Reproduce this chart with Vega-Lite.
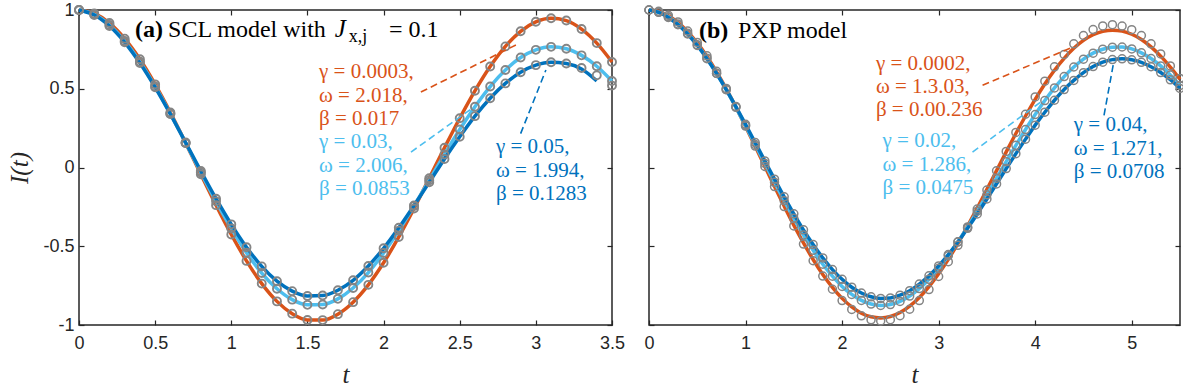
{
  "$schema": "https://vega.github.io/schema/vega-lite/v6.json",
  "background": "white",
  "padding": {"left": 6, "top": 0, "right": 4, "bottom": 0},
  "spacing": 37,
  "bounds": "flush",
  "config": {
    "view": {"stroke": "#262626", "strokeWidth": 1.5},
    "axis": {"domain": false, "grid": false, "tickSize": -5, "tickColor": "#262626", "tickWidth": 1.2, "labelFont": "Liberation Sans", "labelFontSize": 18, "labelColor": "#262626", "labelFlush": false, "labelOverlap": false, "labelBound": false, "titleFont": "Liberation Serif", "titleFontSize": 25, "titleFontStyle": "italic", "titleFontWeight": "normal", "titleColor": "#262626", "labelPadding": 10},
    "axisX": {"labelPadding": 14, "titleBaseline": "alphabetic", "titleY": 57},
    "axisY": {"titleX": -60, "titleY": 157.5, "titleBaseline": "middle"}
  },
  "datasets": {
    "curves": [
      {"p":"a","s":"s1","t":0,"fit":1,"num":1},{"p":"a","s":"s1","t":0.1,"fit":0.978,"num":0.978},{"p":"a","s":"s1","t":0.2,"fit":0.917,"num":0.917},{"p":"a","s":"s1","t":0.3,"fit":0.818,"num":0.818},{"p":"a","s":"s1","t":0.4,"fit":0.687,"num":0.687},{"p":"a","s":"s1","t":0.5,"fit":0.528,"num":0.528},{"p":"a","s":"s1","t":0.6,"fit":0.349,"num":0.349},{"p":"a","s":"s1","t":0.7,"fit":0.156,"num":0.156},{"p":"a","s":"s1","t":0.8,"fit":-0.043,"num":-0.043},{"p":"a","s":"s1","t":0.9,"fit":-0.239,"num":-0.239},{"p":"a","s":"s1","t":1.0,"fit":-0.425,"num":-0.425},{"p":"a","s":"s1","t":1.1,"fit":-0.593,"num":-0.593},{"p":"a","s":"s1","t":1.2,"fit":-0.737,"num":-0.737},{"p":"a","s":"s1","t":1.3,"fit":-0.850,"num":-0.850},{"p":"a","s":"s1","t":1.4,"fit":-0.928,"num":-0.928},{"p":"a","s":"s1","t":1.5,"fit":-0.968,"num":-0.968},{"p":"a","s":"s1","t":1.6,"fit":-0.969,"num":-0.969},{"p":"a","s":"s1","t":1.7,"fit":-0.931,"num":-0.931},{"p":"a","s":"s1","t":1.8,"fit":-0.855,"num":-0.855},{"p":"a","s":"s1","t":1.9,"fit":-0.745,"num":-0.745},{"p":"a","s":"s1","t":2.0,"fit":-0.605,"num":-0.605},{"p":"a","s":"s1","t":2.1,"fit":-0.441,"num":-0.441},{"p":"a","s":"s1","t":2.2,"fit":-0.260,"num":-0.260},{"p":"a","s":"s1","t":2.3,"fit":-0.068,"num":-0.068},{"p":"a","s":"s1","t":2.4,"fit":0.125,"num":0.125},{"p":"a","s":"s1","t":2.5,"fit":0.313,"num":0.313},{"p":"a","s":"s1","t":2.6,"fit":0.487,"num":0.487},{"p":"a","s":"s1","t":2.7,"fit":0.641,"num":0.641},{"p":"a","s":"s1","t":2.8,"fit":0.769,"num":0.769},{"p":"a","s":"s1","t":2.9,"fit":0.865,"num":0.865},{"p":"a","s":"s1","t":3.0,"fit":0.925,"num":0.925},{"p":"a","s":"s1","t":3.1,"fit":0.948,"num":0.948},{"p":"a","s":"s1","t":3.2,"fit":0.933,"num":0.933},{"p":"a","s":"s1","t":3.3,"fit":0.879,"num":0.879},{"p":"a","s":"s1","t":3.4,"fit":0.790,"num":0.790},{"p":"a","s":"s1","t":3.5,"fit":0.670,"num":0.670},
      {"p":"a","s":"s2","t":0,"fit":1,"num":1},{"p":"a","s":"s2","t":0.1,"fit":0.972,"num":0.972},{"p":"a","s":"s2","t":0.2,"fit":0.905,"num":0.905},{"p":"a","s":"s2","t":0.3,"fit":0.803,"num":0.803},{"p":"a","s":"s2","t":0.4,"fit":0.672,"num":0.672},{"p":"a","s":"s2","t":0.5,"fit":0.515,"num":0.515},{"p":"a","s":"s2","t":0.6,"fit":0.341,"num":0.341},{"p":"a","s":"s2","t":0.7,"fit":0.156,"num":0.156},{"p":"a","s":"s2","t":0.8,"fit":-0.032,"num":-0.032},{"p":"a","s":"s2","t":0.9,"fit":-0.215,"num":-0.215},{"p":"a","s":"s2","t":1.0,"fit":-0.387,"num":-0.387},{"p":"a","s":"s2","t":1.1,"fit":-0.541,"num":-0.541},{"p":"a","s":"s2","t":1.2,"fit":-0.670,"num":-0.670},{"p":"a","s":"s2","t":1.3,"fit":-0.770,"num":-0.770},{"p":"a","s":"s2","t":1.4,"fit":-0.839,"num":-0.839},{"p":"a","s":"s2","t":1.5,"fit":-0.872,"num":-0.872},{"p":"a","s":"s2","t":1.6,"fit":-0.870,"num":-0.870},{"p":"a","s":"s2","t":1.7,"fit":-0.834,"num":-0.834},{"p":"a","s":"s2","t":1.8,"fit":-0.765,"num":-0.765},{"p":"a","s":"s2","t":1.9,"fit":-0.667,"num":-0.667},{"p":"a","s":"s2","t":2.0,"fit":-0.543,"num":-0.543},{"p":"a","s":"s2","t":2.1,"fit":-0.401,"num":-0.401},{"p":"a","s":"s2","t":2.2,"fit":-0.244,"num":-0.244},{"p":"a","s":"s2","t":2.3,"fit":-0.081,"num":-0.081},{"p":"a","s":"s2","t":2.4,"fit":0.083,"num":0.083},{"p":"a","s":"s2","t":2.5,"fit":0.241,"num":0.241},{"p":"a","s":"s2","t":2.6,"fit":0.386,"num":0.386},{"p":"a","s":"s2","t":2.7,"fit":0.514,"num":0.514},{"p":"a","s":"s2","t":2.8,"fit":0.619,"num":0.619},{"p":"a","s":"s2","t":2.9,"fit":0.698,"num":0.698},{"p":"a","s":"s2","t":3.0,"fit":0.747,"num":0.747},{"p":"a","s":"s2","t":3.1,"fit":0.766,"num":0.766},{"p":"a","s":"s2","t":3.2,"fit":0.754,"num":0.754},{"p":"a","s":"s2","t":3.3,"fit":0.712,"num":0.712},{"p":"a","s":"s2","t":3.4,"fit":0.643,"num":0.643},{"p":"a","s":"s2","t":3.5,"fit":0.549,"num":0.549},
      {"p":"a","s":"s3","t":0,"fit":1,"num":1},{"p":"a","s":"s3","t":0.1,"fit":0.968,"num":0.968},{"p":"a","s":"s3","t":0.2,"fit":0.898,"num":0.898},{"p":"a","s":"s3","t":0.3,"fit":0.795,"num":0.795},{"p":"a","s":"s3","t":0.4,"fit":0.663,"num":0.663},{"p":"a","s":"s3","t":0.5,"fit":0.509,"num":0.509},{"p":"a","s":"s3","t":0.6,"fit":0.339,"num":0.339},{"p":"a","s":"s3","t":0.7,"fit":0.159,"num":0.159},{"p":"a","s":"s3","t":0.8,"fit":-0.022,"num":-0.022},{"p":"a","s":"s3","t":0.9,"fit":-0.198,"num":-0.198},{"p":"a","s":"s3","t":1.0,"fit":-0.361,"num":-0.361},{"p":"a","s":"s3","t":1.1,"fit":-0.506,"num":-0.506},{"p":"a","s":"s3","t":1.2,"fit":-0.628,"num":-0.628},{"p":"a","s":"s3","t":1.3,"fit":-0.722,"num":-0.722},{"p":"a","s":"s3","t":1.4,"fit":-0.785,"num":-0.785},{"p":"a","s":"s3","t":1.5,"fit":-0.816,"num":-0.816},{"p":"a","s":"s3","t":1.6,"fit":-0.813,"num":-0.813},{"p":"a","s":"s3","t":1.7,"fit":-0.779,"num":-0.779},{"p":"a","s":"s3","t":1.8,"fit":-0.716,"num":-0.716},{"p":"a","s":"s3","t":1.9,"fit":-0.625,"num":-0.625},{"p":"a","s":"s3","t":2.0,"fit":-0.513,"num":-0.513},{"p":"a","s":"s3","t":2.1,"fit":-0.383,"num":-0.383},{"p":"a","s":"s3","t":2.2,"fit":-0.241,"num":-0.241},{"p":"a","s":"s3","t":2.3,"fit":-0.094,"num":-0.094},{"p":"a","s":"s3","t":2.4,"fit":0.054,"num":0.054},{"p":"a","s":"s3","t":2.5,"fit":0.195,"num":0.195},{"p":"a","s":"s3","t":2.6,"fit":0.326,"num":0.326},{"p":"a","s":"s3","t":2.7,"fit":0.440,"num":0.440},{"p":"a","s":"s3","t":2.8,"fit":0.534,"num":0.534},{"p":"a","s":"s3","t":2.9,"fit":0.605,"num":0.605},{"p":"a","s":"s3","t":3.0,"fit":0.650,"num":0.650},{"p":"a","s":"s3","t":3.1,"fit":0.668,"num":0.668},{"p":"a","s":"s3","t":3.2,"fit":0.660,"num":0.660},{"p":"a","s":"s3","t":3.3,"fit":0.626,"num":0.632},{"p":"a","s":"s3","t":3.4,"fit":0.550,"num":0.585},{"p":"a","s":"s3","t":3.5,"fit":null,"num":0.520},
      {"p":"b","s":"s1","t":0,"fit":1,"num":1},{"p":"b","s":"s1","t":0.1,"fit":0.991,"num":0.992},{"p":"b","s":"s1","t":0.2,"fit":0.964,"num":0.966},{"p":"b","s":"s1","t":0.3,"fit":0.922,"num":0.924},{"p":"b","s":"s1","t":0.4,"fit":0.863,"num":0.866},{"p":"b","s":"s1","t":0.5,"fit":0.791,"num":0.794},{"p":"b","s":"s1","t":0.6,"fit":0.705,"num":0.709},{"p":"b","s":"s1","t":0.7,"fit":0.607,"num":0.611},{"p":"b","s":"s1","t":0.8,"fit":0.499,"num":0.502},{"p":"b","s":"s1","t":0.9,"fit":0.383,"num":0.386},{"p":"b","s":"s1","t":1.0,"fit":0.261,"num":0.263},{"p":"b","s":"s1","t":1.1,"fit":0.135,"num":0.136},{"p":"b","s":"s1","t":1.2,"fit":0.007,"num":0.007},{"p":"b","s":"s1","t":1.3,"fit":-0.120,"num":-0.121},{"p":"b","s":"s1","t":1.4,"fit":-0.245,"num":-0.248},{"p":"b","s":"s1","t":1.5,"fit":-0.366,"num":-0.371},{"p":"b","s":"s1","t":1.6,"fit":-0.479,"num":-0.486},{"p":"b","s":"s1","t":1.7,"fit":-0.584,"num":-0.592},{"p":"b","s":"s1","t":1.8,"fit":-0.679,"num":-0.689},{"p":"b","s":"s1","t":1.9,"fit":-0.761,"num":-0.773},{"p":"b","s":"s1","t":2.0,"fit":-0.831,"num":-0.845},{"p":"b","s":"s1","t":2.1,"fit":-0.885,"num":-0.901},{"p":"b","s":"s1","t":2.2,"fit":-0.925,"num":-0.942},{"p":"b","s":"s1","t":2.3,"fit":-0.948,"num":-0.967},{"p":"b","s":"s1","t":2.4,"fit":-0.955,"num":-0.974},{"p":"b","s":"s1","t":2.5,"fit":-0.946,"num":-0.966},{"p":"b","s":"s1","t":2.6,"fit":-0.921,"num":-0.941},{"p":"b","s":"s1","t":2.7,"fit":-0.880,"num":-0.900},{"p":"b","s":"s1","t":2.8,"fit":-0.825,"num":-0.845},{"p":"b","s":"s1","t":2.9,"fit":-0.756,"num":-0.775},{"p":"b","s":"s1","t":3.0,"fit":-0.675,"num":-0.692},{"p":"b","s":"s1","t":3.1,"fit":-0.583,"num":-0.598},{"p":"b","s":"s1","t":3.2,"fit":-0.481,"num":-0.494},{"p":"b","s":"s1","t":3.3,"fit":-0.372,"num":-0.382},{"p":"b","s":"s1","t":3.4,"fit":-0.257,"num":-0.264},{"p":"b","s":"s1","t":3.5,"fit":-0.139,"num":-0.143},{"p":"b","s":"s1","t":3.6,"fit":-0.020,"num":-0.021},{"p":"b","s":"s1","t":3.7,"fit":0.099,"num":0.102},{"p":"b","s":"s1","t":3.8,"fit":0.216,"num":0.223},{"p":"b","s":"s1","t":3.9,"fit":0.327,"num":0.338},{"p":"b","s":"s1","t":4.0,"fit":0.433,"num":0.448},{"p":"b","s":"s1","t":4.1,"fit":0.530,"num":0.548},{"p":"b","s":"s1","t":4.2,"fit":0.617,"num":0.639},{"p":"b","s":"s1","t":4.3,"fit":0.693,"num":0.718},{"p":"b","s":"s1","t":4.4,"fit":0.757,"num":0.785},{"p":"b","s":"s1","t":4.5,"fit":0.807,"num":0.838},{"p":"b","s":"s1","t":4.6,"fit":0.843,"num":0.876},{"p":"b","s":"s1","t":4.7,"fit":0.864,"num":0.899},{"p":"b","s":"s1","t":4.8,"fit":0.872,"num":0.907},{"p":"b","s":"s1","t":4.9,"fit":0.866,"num":0.898},{"p":"b","s":"s1","t":5.0,"fit":0.846,"num":0.875},{"p":"b","s":"s1","t":5.1,"fit":0.813,"num":0.838},{"p":"b","s":"s1","t":5.2,"fit":0.766,"num":0.785},{"p":"b","s":"s1","t":5.3,"fit":0.707,"num":0.721},{"p":"b","s":"s1","t":5.4,"fit":0.638,"num":0.645},{"p":"b","s":"s1","t":5.5,"fit":0.560,"num":0.565},
      {"p":"b","s":"s2","t":0,"fit":1,"num":1},{"p":"b","s":"s2","t":0.1,"fit":0.986,"num":0.986},{"p":"b","s":"s2","t":0.2,"fit":0.957,"num":0.957},{"p":"b","s":"s2","t":0.3,"fit":0.911,"num":0.911},{"p":"b","s":"s2","t":0.4,"fit":0.852,"num":0.852},{"p":"b","s":"s2","t":0.5,"fit":0.779,"num":0.779},{"p":"b","s":"s2","t":0.6,"fit":0.694,"num":0.694},{"p":"b","s":"s2","t":0.7,"fit":0.598,"num":0.598},{"p":"b","s":"s2","t":0.8,"fit":0.494,"num":0.494},{"p":"b","s":"s2","t":0.9,"fit":0.382,"num":0.382},{"p":"b","s":"s2","t":1.0,"fit":0.266,"num":0.266},{"p":"b","s":"s2","t":1.1,"fit":0.146,"num":0.146},{"p":"b","s":"s2","t":1.2,"fit":0.026,"num":0.026},{"p":"b","s":"s2","t":1.3,"fit":-0.094,"num":-0.094},{"p":"b","s":"s2","t":1.4,"fit":-0.211,"num":-0.211},{"p":"b","s":"s2","t":1.5,"fit":-0.323,"num":-0.323},{"p":"b","s":"s2","t":1.6,"fit":-0.429,"num":-0.429},{"p":"b","s":"s2","t":1.7,"fit":-0.526,"num":-0.526},{"p":"b","s":"s2","t":1.8,"fit":-0.614,"num":-0.614},{"p":"b","s":"s2","t":1.9,"fit":-0.690,"num":-0.690},{"p":"b","s":"s2","t":2.0,"fit":-0.755,"num":-0.755},{"p":"b","s":"s2","t":2.1,"fit":-0.806,"num":-0.806},{"p":"b","s":"s2","t":2.2,"fit":-0.844,"num":-0.844},{"p":"b","s":"s2","t":2.3,"fit":-0.867,"num":-0.867},{"p":"b","s":"s2","t":2.4,"fit":-0.876,"num":-0.876},{"p":"b","s":"s2","t":2.5,"fit":-0.870,"num":-0.870},{"p":"b","s":"s2","t":2.6,"fit":-0.850,"num":-0.850},{"p":"b","s":"s2","t":2.7,"fit":-0.816,"num":-0.816},{"p":"b","s":"s2","t":2.8,"fit":-0.769,"num":-0.769},{"p":"b","s":"s2","t":2.9,"fit":-0.710,"num":-0.710},{"p":"b","s":"s2","t":3.0,"fit":-0.640,"num":-0.640},{"p":"b","s":"s2","t":3.1,"fit":-0.560,"num":-0.560},{"p":"b","s":"s2","t":3.2,"fit":-0.472,"num":-0.472},{"p":"b","s":"s2","t":3.3,"fit":-0.377,"num":-0.377},{"p":"b","s":"s2","t":3.4,"fit":-0.277,"num":-0.277},{"p":"b","s":"s2","t":3.5,"fit":-0.173,"num":-0.173},{"p":"b","s":"s2","t":3.6,"fit":-0.068,"num":-0.068},{"p":"b","s":"s2","t":3.7,"fit":0.037,"num":0.037},{"p":"b","s":"s2","t":3.8,"fit":0.141,"num":0.141},{"p":"b","s":"s2","t":3.9,"fit":0.241,"num":0.241},{"p":"b","s":"s2","t":4.0,"fit":0.336,"num":0.336},{"p":"b","s":"s2","t":4.1,"fit":0.425,"num":0.425},{"p":"b","s":"s2","t":4.2,"fit":0.505,"num":0.505},{"p":"b","s":"s2","t":4.3,"fit":0.577,"num":0.577},{"p":"b","s":"s2","t":4.4,"fit":0.638,"num":0.638},{"p":"b","s":"s2","t":4.5,"fit":0.688,"num":0.688},{"p":"b","s":"s2","t":4.6,"fit":0.726,"num":0.726},{"p":"b","s":"s2","t":4.7,"fit":0.751,"num":0.751},{"p":"b","s":"s2","t":4.8,"fit":0.764,"num":0.764},{"p":"b","s":"s2","t":4.9,"fit":0.765,"num":0.765},{"p":"b","s":"s2","t":5.0,"fit":0.753,"num":0.753},{"p":"b","s":"s2","t":5.1,"fit":0.728,"num":0.728},{"p":"b","s":"s2","t":5.2,"fit":0.692,"num":0.692},{"p":"b","s":"s2","t":5.3,"fit":0.645,"num":0.645},{"p":"b","s":"s2","t":5.4,"fit":0.587,"num":0.587},{"p":"b","s":"s2","t":5.5,"fit":0.521,"num":0.521},
      {"p":"b","s":"s3","t":0,"fit":1,"num":1},{"p":"b","s":"s3","t":0.1,"fit":0.985,"num":0.985},{"p":"b","s":"s3","t":0.2,"fit":0.953,"num":0.953},{"p":"b","s":"s3","t":0.3,"fit":0.907,"num":0.907},{"p":"b","s":"s3","t":0.4,"fit":0.848,"num":0.848},{"p":"b","s":"s3","t":0.5,"fit":0.775,"num":0.775},{"p":"b","s":"s3","t":0.6,"fit":0.691,"num":0.691},{"p":"b","s":"s3","t":0.7,"fit":0.597,"num":0.597},{"p":"b","s":"s3","t":0.8,"fit":0.495,"num":0.495},{"p":"b","s":"s3","t":0.9,"fit":0.387,"num":0.387},{"p":"b","s":"s3","t":1.0,"fit":0.274,"num":0.274},{"p":"b","s":"s3","t":1.1,"fit":0.158,"num":0.158},{"p":"b","s":"s3","t":1.2,"fit":0.042,"num":0.042},{"p":"b","s":"s3","t":1.3,"fit":-0.074,"num":-0.074},{"p":"b","s":"s3","t":1.4,"fit":-0.186,"num":-0.186},{"p":"b","s":"s3","t":1.5,"fit":-0.294,"num":-0.294},{"p":"b","s":"s3","t":1.6,"fit":-0.396,"num":-0.396},{"p":"b","s":"s3","t":1.7,"fit":-0.489,"num":-0.489},{"p":"b","s":"s3","t":1.8,"fit":-0.574,"num":-0.574},{"p":"b","s":"s3","t":1.9,"fit":-0.648,"num":-0.648},{"p":"b","s":"s3","t":2.0,"fit":-0.710,"num":-0.710},{"p":"b","s":"s3","t":2.1,"fit":-0.760,"num":-0.760},{"p":"b","s":"s3","t":2.2,"fit":-0.797,"num":-0.797},{"p":"b","s":"s3","t":2.3,"fit":-0.821,"num":-0.821},{"p":"b","s":"s3","t":2.4,"fit":-0.831,"num":-0.831},{"p":"b","s":"s3","t":2.5,"fit":-0.828,"num":-0.828},{"p":"b","s":"s3","t":2.6,"fit":-0.811,"num":-0.811},{"p":"b","s":"s3","t":2.7,"fit":-0.782,"num":-0.782},{"p":"b","s":"s3","t":2.8,"fit":-0.740,"num":-0.740},{"p":"b","s":"s3","t":2.9,"fit":-0.688,"num":-0.688},{"p":"b","s":"s3","t":3.0,"fit":-0.625,"num":-0.625},{"p":"b","s":"s3","t":3.1,"fit":-0.553,"num":-0.553},{"p":"b","s":"s3","t":3.2,"fit":-0.473,"num":-0.473},{"p":"b","s":"s3","t":3.3,"fit":-0.386,"num":-0.386},{"p":"b","s":"s3","t":3.4,"fit":-0.295,"num":-0.295},{"p":"b","s":"s3","t":3.5,"fit":-0.200,"num":-0.200},{"p":"b","s":"s3","t":3.6,"fit":-0.104,"num":-0.104},{"p":"b","s":"s3","t":3.7,"fit":-0.007,"num":-0.007},{"p":"b","s":"s3","t":3.8,"fit":0.088,"num":0.088},{"p":"b","s":"s3","t":3.9,"fit":0.180,"num":0.180},{"p":"b","s":"s3","t":4.0,"fit":0.269,"num":0.269},{"p":"b","s":"s3","t":4.1,"fit":0.351,"num":0.351},{"p":"b","s":"s3","t":4.2,"fit":0.427,"num":0.427},{"p":"b","s":"s3","t":4.3,"fit":0.495,"num":0.495},{"p":"b","s":"s3","t":4.4,"fit":0.553,"num":0.553},{"p":"b","s":"s3","t":4.5,"fit":0.602,"num":0.602},{"p":"b","s":"s3","t":4.6,"fit":0.641,"num":0.641},{"p":"b","s":"s3","t":4.7,"fit":0.669,"num":0.669},{"p":"b","s":"s3","t":4.8,"fit":0.685,"num":0.685},{"p":"b","s":"s3","t":4.9,"fit":0.690,"num":0.690},{"p":"b","s":"s3","t":5.0,"fit":0.684,"num":0.684},{"p":"b","s":"s3","t":5.1,"fit":0.668,"num":0.668},{"p":"b","s":"s3","t":5.2,"fit":0.640,"num":0.640},{"p":"b","s":"s3","t":5.3,"fit":0.603,"num":0.603},{"p":"b","s":"s3","t":5.4,"fit":0.557,"num":0.557},{"p":"b","s":"s3","t":5.5,"fit":0.502,"num":0.502}
    ],
    "notes": [
      {"p":"a","s":"s1","tx":1.576,"ty":0.566,"lines":["γ = 0.0003,","ω = 2.018,","β = 0.017"]},
      {"p":"a","s":"s2","tx":1.576,"ty":0.122,"lines":["γ = 0.03,","ω = 2.006,","β = 0.0853"]},
      {"p":"a","s":"s3","tx":2.738,"ty":0.090,"lines":["γ = 0.05,","ω = 1.994,","β = 0.1283"]},
      {"p":"b","s":"s1","tx":2.35,"ty":0.621,"lines":["γ = 0.0002,","ω = 1.3.03,","β = 0.00.236"]},
      {"p":"b","s":"s2","tx":2.419,"ty":0.128,"lines":["γ = 0.02,","ω = 1.286,","β = 0.0475"]},
      {"p":"b","s":"s3","tx":4.40,"ty":0.230,"lines":["γ = 0.04,","ω = 1.271,","β = 0.0708"]}
    ],
    "dashes": [
      {"p":"a","s":"s1","x1":2.245,"y1":0.479,"x2":2.87,"y2":0.778},
      {"p":"a","s":"s2","x1":2.18,"y1":0.098,"x2":2.574,"y2":0.371},
      {"p":"a","s":"s3","x1":2.90,"y1":0.215,"x2":3.066,"y2":0.619},
      {"p":"b","s":"s1","x1":3.455,"y1":0.522,"x2":4.39,"y2":0.765},
      {"p":"b","s":"s2","x1":3.351,"y1":0.098,"x2":4.058,"y2":0.416},
      {"p":"b","s":"s3","x1":4.713,"y1":0.331,"x2":4.817,"y2":0.681}
    ],
    "titles": [
      {"p":"a","k":"b","x":0.368,"y":0.829,"txt":"(a)"},
      {"p":"a","k":"n","x":0.585,"y":0.829,"txt":"SCL model with"},
      {"p":"a","k":"i","x":1.680,"y":0.829,"txt":"J"},
      {"p":"a","k":"s","x":1.772,"y":0.797,"txt":"x,j"},
      {"p":"a","k":"n","x":2.035,"y":0.829,"txt":"= 0.1"},
      {"p":"b","k":"b","x":0.518,"y":0.822,"txt":"(b)"},
      {"p":"b","k":"n","x":0.921,"y":0.822,"txt":"PXP model"}
    ]
  },
  "hconcat": [
    {
      "width": 533,
      "height": 315,
      "resolve": {"axis": {"x": "independent", "y": "independent"}},
      "layer": [
        {
          "data": {"name": "curves"},
          "transform": [{"filter": "datum.p == 'a'"}],
          "mark": {"type": "line", "strokeWidth": 3.5, "interpolate": "monotone"},
          "encoding": {
            "x": {"field": "t", "type": "quantitative", "scale": {"domain": [0, 3.5], "nice": false}, "axis": {"orient": "bottom", "values": [0, 0.5, 1, 1.5, 2, 2.5, 3, 3.5], "labelExpr": "format(datum.value, '~g')", "title": "t"}},
            "y": {"field": "fit", "type": "quantitative", "scale": {"domain": [-1, 1], "nice": false}, "axis": {"orient": "left", "values": [-1, -0.5, 0, 0.5, 1], "labelExpr": "datum.value < 0 ? '-' + format(-datum.value, '~g') : format(datum.value, '~g')", "title": "I(t)"}},
            "color": {"field": "s", "type": "nominal", "scale": {"domain": ["s1", "s2", "s3"], "range": ["#D95319", "#4DBEEE", "#0072BD"]}, "legend": null}
          }
        },
        {
          "data": {"name": "curves"},
          "transform": [{"filter": "datum.p == 'a'"}],
          "mark": {"type": "point", "shape": "circle", "filled": false, "size": 64, "stroke": "#858585", "opacity": 1},
          "encoding": {
            "x": {"field": "t", "type": "quantitative", "scale": {"domain": [0, 3.5], "nice": false}, "axis": {"orient": "top", "values": [0, 0.5, 1, 1.5, 2, 2.5, 3, 3.5], "labels": false, "title": null}},
            "y": {"field": "num", "type": "quantitative", "scale": {"domain": [-1, 1], "nice": false}, "axis": {"orient": "right", "values": [-1, -0.5, 0, 0.5, 1], "labels": false, "title": null}},
            "strokeWidth": {"field": "s", "type": "ordinal", "scale": {"domain": ["s1", "s2", "s3"], "range": [1.9, 1.9, 1.1]}, "legend": null}
          }
        },
        {
          "data": {"name": "dashes"},
          "transform": [{"filter": "datum.p == 'a'"}],
          "mark": {"type": "rule", "strokeWidth": 1.6, "strokeDash": [7, 4]},
          "encoding": {
            "x": {"field": "x1", "type": "quantitative", "axis": null},
            "y": {"field": "y1", "type": "quantitative", "axis": null},
            "x2": {"field": "x2"},
            "y2": {"field": "y2"},
            "color": {"field": "s", "type": "nominal", "legend": null}
          }
        },
        {
          "data": {"name": "notes"},
          "transform": [{"filter": "datum.p == 'a'"}],
          "mark": {"type": "text", "font": "Liberation Serif", "fontSize": 21, "align": "left", "baseline": "alphabetic", "lineHeight": 23.3},
          "encoding": {
            "x": {"field": "tx", "type": "quantitative", "axis": null},
            "y": {"field": "ty", "type": "quantitative", "axis": null},
            "text": {"field": "lines"},
            "color": {"field": "s", "type": "nominal", "legend": null}
          }
        },
        {
          "data": {"name": "titles"},
          "transform": [{"filter": "datum.p == 'a' && datum.k == 'b'"}],
          "mark": {"type": "text", "font": "Liberation Serif", "fontSize": 24, "fontWeight": "bold", "align": "left", "baseline": "alphabetic", "color": "#000000"},
          "encoding": {"x": {"field": "x", "type": "quantitative", "axis": null}, "y": {"field": "y", "type": "quantitative", "axis": null}, "text": {"field": "txt"}}
        },
        {
          "data": {"name": "titles"},
          "transform": [{"filter": "datum.p == 'a' && datum.k == 'n'"}],
          "mark": {"type": "text", "font": "Liberation Serif", "fontSize": 24, "align": "left", "baseline": "alphabetic", "color": "#000000"},
          "encoding": {"x": {"field": "x", "type": "quantitative", "axis": null}, "y": {"field": "y", "type": "quantitative", "axis": null}, "text": {"field": "txt"}}
        },
        {
          "data": {"name": "titles"},
          "transform": [{"filter": "datum.p == 'a' && datum.k == 'i'"}],
          "mark": {"type": "text", "font": "Liberation Serif", "fontSize": 25, "fontStyle": "italic", "align": "left", "baseline": "alphabetic", "color": "#000000"},
          "encoding": {"x": {"field": "x", "type": "quantitative", "axis": null}, "y": {"field": "y", "type": "quantitative", "axis": null}, "text": {"field": "txt"}}
        },
        {
          "data": {"name": "titles"},
          "transform": [{"filter": "datum.p == 'a' && datum.k == 's'"}],
          "mark": {"type": "text", "font": "Liberation Serif", "fontSize": 18, "align": "left", "baseline": "alphabetic", "color": "#000000"},
          "encoding": {"x": {"field": "x", "type": "quantitative", "axis": null}, "y": {"field": "y", "type": "quantitative", "axis": null}, "text": {"field": "txt"}}
        }
      ]
    },
    {
      "width": 531,
      "height": 315,
      "resolve": {"axis": {"x": "independent", "y": "independent"}},
      "layer": [
        {
          "data": {"name": "curves"},
          "transform": [{"filter": "datum.p == 'b'"}],
          "mark": {"type": "line", "strokeWidth": 3.5, "interpolate": "monotone"},
          "encoding": {
            "x": {"field": "t", "type": "quantitative", "scale": {"domain": [0, 5.5], "nice": false}, "axis": {"orient": "bottom", "values": [0, 1, 2, 3, 4, 5], "labelExpr": "format(datum.value, '~g')", "title": "t"}},
            "y": {"field": "fit", "type": "quantitative", "scale": {"domain": [-1, 1], "nice": false}, "axis": {"orient": "left", "values": [-1, -0.5, 0, 0.5, 1], "labels": false, "title": null}},
            "color": {"field": "s", "type": "nominal", "scale": {"domain": ["s1", "s2", "s3"], "range": ["#D95319", "#4DBEEE", "#0072BD"]}, "legend": null}
          }
        },
        {
          "data": {"name": "curves"},
          "transform": [{"filter": "datum.p == 'b'"}],
          "mark": {"type": "point", "shape": "circle", "filled": false, "size": 64, "stroke": "#858585", "strokeWidth": 1.5, "opacity": 1},
          "encoding": {
            "x": {"field": "t", "type": "quantitative", "scale": {"domain": [0, 5.5], "nice": false}, "axis": {"orient": "top", "values": [0, 1, 2, 3, 4, 5], "labels": false, "title": null}},
            "y": {"field": "num", "type": "quantitative", "scale": {"domain": [-1, 1], "nice": false}, "axis": {"orient": "right", "values": [-1, -0.5, 0, 0.5, 1], "labels": false, "title": null}}
          }
        },
        {
          "data": {"name": "dashes"},
          "transform": [{"filter": "datum.p == 'b'"}],
          "mark": {"type": "rule", "strokeWidth": 1.6, "strokeDash": [7, 4]},
          "encoding": {
            "x": {"field": "x1", "type": "quantitative", "axis": null},
            "y": {"field": "y1", "type": "quantitative", "axis": null},
            "x2": {"field": "x2"},
            "y2": {"field": "y2"},
            "color": {"field": "s", "type": "nominal", "legend": null}
          }
        },
        {
          "data": {"name": "notes"},
          "transform": [{"filter": "datum.p == 'b'"}],
          "mark": {"type": "text", "font": "Liberation Serif", "fontSize": 21, "align": "left", "baseline": "alphabetic", "lineHeight": 23.3},
          "encoding": {
            "x": {"field": "tx", "type": "quantitative", "axis": null},
            "y": {"field": "ty", "type": "quantitative", "axis": null},
            "text": {"field": "lines"},
            "color": {"field": "s", "type": "nominal", "legend": null}
          }
        },
        {
          "data": {"name": "titles"},
          "transform": [{"filter": "datum.p == 'b' && datum.k == 'b'"}],
          "mark": {"type": "text", "font": "Liberation Serif", "fontSize": 24, "fontWeight": "bold", "align": "left", "baseline": "alphabetic", "color": "#000000"},
          "encoding": {"x": {"field": "x", "type": "quantitative", "axis": null}, "y": {"field": "y", "type": "quantitative", "axis": null}, "text": {"field": "txt"}}
        },
        {
          "data": {"name": "titles"},
          "transform": [{"filter": "datum.p == 'b' && datum.k == 'n'"}],
          "mark": {"type": "text", "font": "Liberation Serif", "fontSize": 24, "align": "left", "baseline": "alphabetic", "color": "#000000"},
          "encoding": {"x": {"field": "x", "type": "quantitative", "axis": null}, "y": {"field": "y", "type": "quantitative", "axis": null}, "text": {"field": "txt"}}
        }
      ]
    }
  ]
}
